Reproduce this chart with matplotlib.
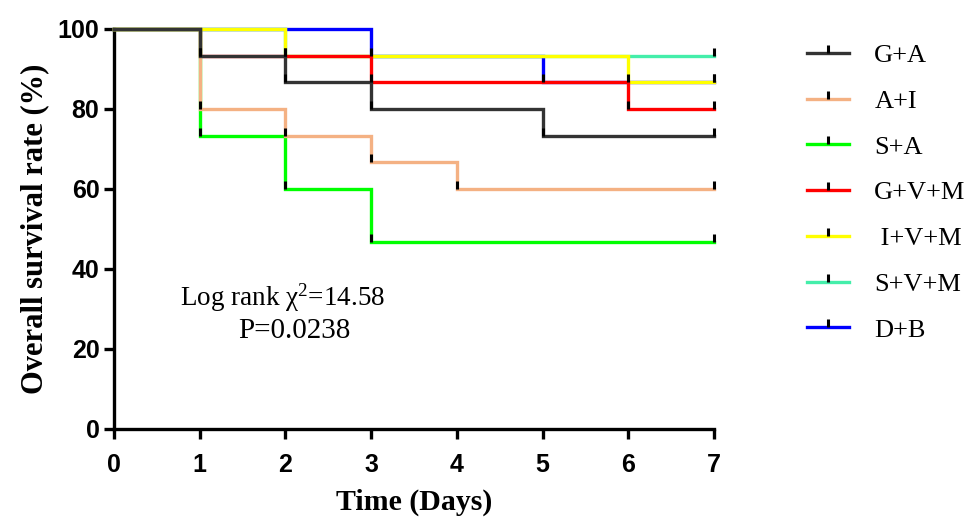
import matplotlib
matplotlib.use("Agg")
import matplotlib.pyplot as plt
from matplotlib.lines import Line2D
from matplotlib.path import Path

days = [0, 1, 2, 3, 4, 5, 6, 7]
groups = ["G+A", "A+I", "S+A", "G+V+M", " I+V+M", "S+V+M", "D+B"]
colors = ["#333333", "#F4B183", "#00FF00", "#FF0000", "#FFFF00", "#44EEAA", "#0000FF"]
surv_GA = [100, 93.33, 86.67, 80, 80, 73.33, 73.33, 73.33]
surv_AI = [100, 80, 73.33, 66.67, 60, 60, 60, 60]
surv_SA = [100, 73.33, 60, 46.67, 46.67, 46.67, 46.67, 46.67]
surv_GVM = [100, 93.33, 93.33, 86.67, 86.67, 86.67, 80, 80]
surv_IVM = [100, 100, 93.33, 93.33, 93.33, 93.33, 86.67, 86.67]
surv_SVM = [100, 100, 93.33, 93.33, 93.33, 93.33, 93.33, 93.33]
surv_DB = [100, 100, 100, 93.33, 93.33, 86.67, 86.67, 86.67]
series = [surv_GA, surv_AI, surv_SA, surv_GVM, surv_IVM, surv_SVM, surv_DB]
xticks = [0, 1, 2, 3, 4, 5, 6, 7]
yticks = [0, 20, 40, 60, 80, 100]

plt.rcParams["mathtext.fontset"] = "custom"
plt.rcParams["mathtext.rm"] = "Liberation Serif"
plt.rcParams["mathtext.it"] = "Liberation Serif:italic"

tick_font = ["Liberation Sans", "DejaVu Sans"]
serif = ["Liberation Serif", "DejaVu Serif"]

fig = plt.figure(figsize=(9.67, 5.23), dpi=100)
ax = fig.add_axes([114/967, 94/523, 600/967, 400/523])

censor = Path([(0, 0), (0, 1)], [Path.MOVETO, Path.LINETO])
lw = 2.4
n = len(series)
for i, (name, col, s) in enumerate(zip(groups, colors, series)):
    z = 2 + (n - i)
    ax.step(days, s, where="post", color=col, lw=lw, zorder=z, clip_on=False,
            solid_joinstyle="miter")
    xs, ys = [], []
    for k in range(1, len(days)):
        if s[k] != s[k - 1]:
            xs.append(days[k]); ys.append(s[k])
    xs.append(days[-1]); ys.append(s[-1])
    ax.plot(xs, ys, ls="none", marker=censor, ms=12, mew=2.2, mec="black",
            zorder=20, clip_on=False)

ax.set_xlim(0, 7)
ax.set_ylim(0, 100)
ax.set_xticks(xticks)
ax.set_yticks(yticks)
for sp in ["top", "right"]:
    ax.spines[sp].set_visible(False)
for sp in ["left", "bottom"]:
    ax.spines[sp].set_linewidth(2.4)
ax.tick_params(width=2.4, length=7.5, direction="out")
ax.tick_params(axis="x", pad=10)
ax.tick_params(axis="y", pad=3)
for lab in ax.get_xticklabels() + ax.get_yticklabels():
    lab.set_fontfamily(tick_font)
    lab.set_fontweight("bold")
    lab.set_fontsize(18)

ax.set_xlabel("Time (Days)", family=serif, fontweight="bold", fontsize=21.5, labelpad=8)
ax.set_ylabel("Overall survival rate (%)", family=serif, fontweight="bold", fontsize=22, labelpad=6)

ax.text(1.97, 32.7, r"Log rank χ$^{2}$=14.58", family=serif, fontsize=19.5, ha="center", va="center")
ax.text(2.10, 24.6, "P=0.0238", family=serif, fontsize=21, ha="center", va="center")

handles = [Line2D([0], [0], color=c, lw=lw, marker=censor, ms=12, mew=2.2, mec="black")
           for c in colors]
leg = fig.legend(handles, groups, loc="upper left", bbox_to_anchor=(0.810, 0.962),
                 frameon=False, prop={"family": serif, "size": 19},
                 handlelength=1.6, handletextpad=0.95, labelspacing=0.845, numpoints=1)

fig.savefig("out.png", dpi=100)
